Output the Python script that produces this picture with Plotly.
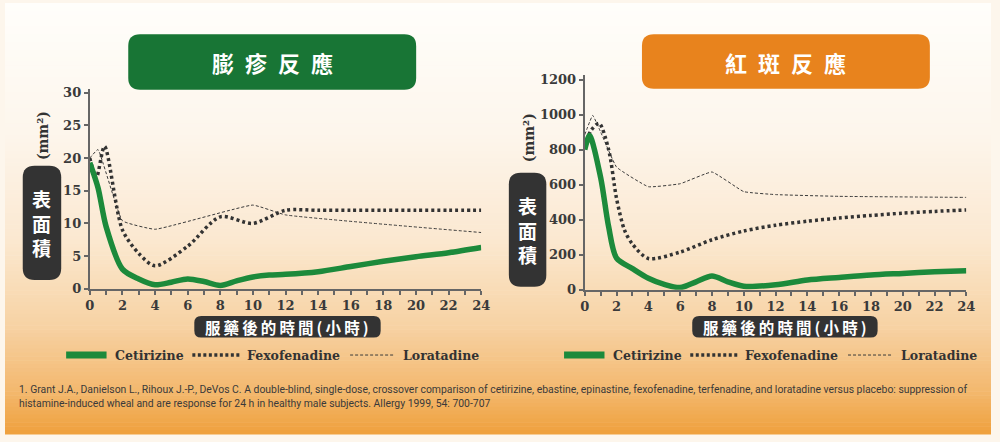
import plotly.graph_objects as go

# 膨疹反應 (wheal, mm2)
wheal_cet_h = [0, 0.5, 1, 2, 3, 4, 5, 6, 7, 8, 9, 10, 11, 12, 14, 16, 18, 20, 22, 24]
wheal_cet = [19.3, 15.5, 9.5, 3.0, 1.5, 0.6, 1.0, 1.5, 1.1, 0.5, 1.2, 1.8, 2.1, 2.2, 2.6, 3.4, 4.2, 4.9, 5.5, 6.3]
wheal_fex_h = [0, 0.4, 0.9, 2, 3, 4, 6, 8, 10, 12, 14, 16, 18, 20, 22, 24]
wheal_fex = [20, 17, 21.8, 9, 5.4, 3.5, 6.5, 11, 10, 12, 12, 12, 12, 12, 12, 12]
wheal_lor_h = [0, 0.5, 2, 4, 10, 12, 24]
wheal_lor = [20, 21.3, 10.4, 9.1, 12.8, 11.3, 8.6]

# 紅斑反應 (flare, mm2)
flare_cet_h = [0, 0.3, 1, 1.5, 2, 3, 4, 5, 6, 7, 8, 9, 10, 12, 14, 16, 18, 20, 22, 24]
flare_cet = [800, 880, 640, 360, 180, 120, 65, 30, 12, 45, 78, 45, 20, 28, 55, 70, 84, 93, 102, 108]
flare_fex_h = [0, 0.4, 0.9, 1.5, 2, 2.5, 3, 4, 6, 8, 10, 12, 14, 16, 18, 20, 22, 24]
flare_fex = [820, 910, 950, 800, 520, 340, 260, 178, 215, 285, 335, 368, 391, 409, 424, 437, 447, 455]
flare_lor_h = [0, 0.5, 1, 2, 4, 6, 8, 10, 12, 16, 24]
flare_lor = [885, 995, 900, 700, 588, 605, 672, 560, 543, 533, 527]

drug_names = ["Cetirizine", "Fexofenadine", "Loratadine"]
panel_titles = ["膨\u2002疹\u2002反\u2002應", "紅\u2002斑\u2002反\u2002應"]
x_title = "服\u2009藥\u2009後\u2009的\u2009時\u2009間\u2009(\u2009小\u2009時\u2009)"
y_title = "表<br>面<br>積"
unit = "(mm²)"
footnote = ("1. Grant J.A., Danielson L., Rihoux J.-P., DeVos C. A double-blind, single-dose, crossover comparison of cetirizine, "
            "ebastine, epinastine, fexofenadine, terfenadine, and loratadine versus placebo: suppression of<br>"
            "histamine-induced wheal and are response for 24 h in healthy male subjects. Allergy 1999, 54: 700-707")

W, H = 1000, 442
GREEN = "#1c8a3b"
DARK = "#333333"
SERIF = "DejaVu Serif"
CJK = "Noto Sans CJK TC"


def px(x):
    return x / W


def py(y):
    return 1 - y / H


def rbox(x0, y0, x1, y1, r, color):
    X0, X1 = px(x0), px(x1)
    Y0, Y1 = py(y0), py(y1)
    rx, ry = r / W, r / H
    path = (f"M {X0+rx},{Y0} L {X1-rx},{Y0} Q {X1},{Y0} {X1},{Y0-ry} "
            f"L {X1},{Y1+ry} Q {X1},{Y1} {X1-rx},{Y1} L {X0+rx},{Y1} "
            f"Q {X0},{Y1} {X0},{Y1+ry} L {X0},{Y0-ry} Q {X0},{Y0} {X0+rx},{Y0} Z")
    return dict(type="path", path=path, xref="paper", yref="paper",
                fillcolor=color, line=dict(width=0), layer="below")


def note(x, y, text, font, **kw):
    d = dict(x=px(x), y=py(y), xref="paper", yref="paper", showarrow=False,
             xanchor="center", yanchor="middle", text=text, font=font)
    d.update(kw)
    return d


fig = go.Figure()

panels = [
    ("x", "y", wheal_cet_h, wheal_cet, wheal_fex_h, wheal_fex, wheal_lor_h, wheal_lor),
    ("x2", "y2", flare_cet_h, flare_cet, flare_fex_h, flare_fex, flare_lor_h, flare_lor),
]
for xa, ya, ch, cv, fh, fv, lh, lv in panels:
    fig.add_trace(go.Scatter(x=lh, y=lv, xaxis=xa, yaxis=ya, mode="lines",
                             line=dict(color="#3a3a3a", width=1, dash="3px,2px",
                                       shape="spline", smoothing=0.3),
                             cliponaxis=False, showlegend=False, hoverinfo="skip"))
    fig.add_trace(go.Scatter(x=fh, y=fv, xaxis=xa, yaxis=ya, mode="lines",
                             line=dict(color="#333333", width=3.5, dash="3px,3px",
                                       shape="spline", smoothing=0.8),
                             cliponaxis=False, showlegend=False, hoverinfo="skip"))
    fig.add_trace(go.Scatter(x=ch, y=cv, xaxis=xa, yaxis=ya, mode="lines",
                             line=dict(color=GREEN, width=5.5, shape="spline", smoothing=0.8),
                             cliponaxis=False, showlegend=False, hoverinfo="skip"))

shapes = []
# background gradient
stops = [(0.0, (255, 254, 251)), (0.3, (253, 246, 236)), (0.55, (251, 232, 208)),
         (0.75, (247, 210, 164)), (0.9, (243, 184, 110)), (1.0, (239, 160, 60))]


def grad(t):
    for (t0, c0), (t1, c1) in zip(stops[:-1], stops[1:]):
        if t <= t1:
            f = (t - t0) / (t1 - t0)
            return "rgb(%d,%d,%d)" % tuple(round(a + (b - a) * f) for a, b in zip(c0, c1))
    return "rgb(%d,%d,%d)" % stops[-1][1]


n = 111
for i in range(n):
    y0 = i * H / n
    shapes.append(dict(type="rect", xref="paper", yref="paper", x0=0, x1=1,
                       y0=py(y0 + H / n + 0.5), y1=py(y0), fillcolor=grad((i + 0.5) / n),
                       line=dict(width=0), layer="below"))

shapes += [
    rbox(125, 32, 417, 89, 12, "#187535"),
    rbox(646, 32, 938, 88, 12, "#e8831d"),
    rbox(18, 167, 57, 284, 12, DARK),
    rbox(511, 174, 549, 291, 12, DARK),
    rbox(192, 321, 381, 343, 7, DARK),
    rbox(697, 321, 885, 343, 7, DARK),
]

title_font = dict(family=CJK, size=22, color="white", weight="bold")
annotations = [note(271, 60, panel_titles[0], title_font),
               note(792, 60, panel_titles[1], title_font)]

for cx, cy, ux, uy in [(37.5, 226, 38, 136), (530, 233, 531, 138)]:
    annotations.append(note(cx, cy, y_title, dict(family=CJK, size=19, color="white", weight="bold"),
                            align="center"))
    annotations.append(note(ux, uy, unit, dict(family=SERIF, size=14, color=DARK, weight="bold"),
                            textangle=-90))

for cx in [286.5, 791]:
    annotations.append(note(cx, 332, x_title, dict(family=CJK, size=15.5, color="white", weight="bold")))

# legends
leg_y = 361
leg_font = dict(family=SERIF, size=12.5, color=DARK, weight="bold")
for lx in [60, 565]:
    shapes.append(dict(type="line", xref="paper", yref="paper", x0=px(lx + 2), x1=px(lx + 43),
                       y0=py(leg_y), y1=py(leg_y), line=dict(color=GREEN, width=7)))
    shapes.append(dict(type="line", xref="paper", yref="paper", x0=px(lx + 130), x1=px(lx + 178),
                       y0=py(leg_y), y1=py(leg_y), line=dict(color="#333333", width=3.5, dash="3px,2.5px")))
    shapes.append(dict(type="line", xref="paper", yref="paper", x0=px(lx + 290), x1=px(lx + 335),
                       y0=py(leg_y), y1=py(leg_y), line=dict(color="#3a3a3a", width=1, dash="3px,2px")))
    for off, name in zip([50, 183, 342], drug_names):
        annotations.append(note(lx + off, leg_y, name, leg_font, xanchor="left"))

annotations.append(note(12, 404, footnote, dict(family="Roboto", size=10.4, color="#3a3a3a"),
                        xanchor="left", align="left"))

axis_common = dict(showgrid=False, zeroline=False, showline=True, linecolor="#666666", linewidth=2,
                   ticks="outside", tickcolor="#666666", ticklen=4, tickwidth=1.5,
                   tickfont=dict(family=SERIF, size=13, color="#3a3a3a", weight="bold"))

fig.update_layout(
    width=W, height=H, margin=dict(l=0, r=0, t=0, b=0),
    font=dict(family=SERIF),
    paper_bgcolor="#fdf6ec", plot_bgcolor="rgba(0,0,0,0)",
    showlegend=False, shapes=shapes, annotations=annotations,
    xaxis=dict(domain=[px(86), px(483)], range=[0, 24], anchor="y", dtick=2,
               minor=dict(dtick=1, ticks="outside", ticklen=4, tickcolor="#666666"), **axis_common),
    yaxis=dict(domain=[py(293), py(88)], range=[0, 30.6], anchor="x", tickvals=[0, 5, 10, 15, 20, 25, 30],
               **axis_common),
    xaxis2=dict(domain=[px(588), px(975)], range=[0, 24], anchor="y2", dtick=2,
                minor=dict(dtick=1, ticks="outside", ticklen=4, tickcolor="#666666"), **axis_common),
    yaxis2=dict(domain=[py(294), py(74)], range=[0, 1225], anchor="x2",
                tickvals=[0, 200, 400, 600, 800, 1000, 1200], **axis_common),
)

pin = ("document.documentElement.style.margin='0';document.body.style.margin='0';"
       "document.body.style.overflow='hidden';"
       "var g=document.getElementsByClassName('plotly-graph-div')[0];"
       "g.style.position='fixed';g.style.left='0px';g.style.top='0px';")
fig.write_html("out.html", config={"displayModeBar": False}, post_script=pin)
